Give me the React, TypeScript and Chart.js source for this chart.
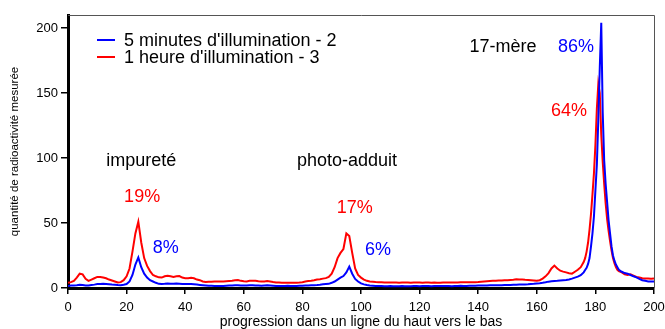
import React, { useEffect, useRef } from "react";
import { Chart, registerables } from "chart.js";

Chart.register(...registerables);

// Position along the lane (x values)
const positions: number[] = [
  0, 1, 2, 3, 4, 5, 6, 7, 8, 9, 10, 11, 12, 13, 14, 15, 16, 17, 18, 19,
  20, 21, 22, 23, 24, 25, 26, 27, 28, 29, 30, 31, 32, 33, 34, 35, 36, 37, 38, 39,
  40, 41, 42, 43, 44, 45, 46, 47, 48, 49, 50, 51, 52, 53, 54, 55, 56, 57, 58, 59,
  60, 61, 62, 63, 64, 65, 66, 67, 68, 69, 70, 71, 72, 73, 74, 75, 76, 77, 78, 79,
  80, 81, 82, 83, 84, 85, 86, 87, 88, 89, 90, 91, 92, 93, 94, 95, 96, 97, 98, 99,
  100, 101, 102, 103, 104, 105, 106, 107, 108, 109, 110, 111, 112, 113, 114, 115, 116, 117, 118, 119,
  120, 121, 122, 123, 124, 125, 126, 127, 128, 129, 130, 131, 132, 133, 134, 135, 136, 137, 138, 139,
  140, 141, 142, 143, 144, 145, 146, 147, 148, 149, 150, 151, 152, 153, 154, 155, 156, 157, 158, 159,
  160, 161, 162, 163, 164, 165, 166, 167, 168, 169, 170, 171, 172, 173, 174, 175, 176,
  176.5, 177, 177.5, 178, 178.5, 179, 179.5, 180, 180.5, 181, 181.5, 182, 182.5, 183, 183.5,
  184, 184.5, 185, 185.5, 186, 186.5, 187, 187.5,
  188, 189, 190, 191, 192, 193, 194, 195, 196, 197, 198, 199, 200,
];

// 5 minutes d'illumination - 2 (blue)
const blueValues: number[] = [
  1.5, 2, 2, 2.2, 2.5, 2.3, 2, 2, 2.3, 2.6, 3, 3, 3.2, 3, 2.8, 2.6, 2.5, 2.3, 2.2, 2.5,
  3, 5, 10, 18, 23.5, 16, 11, 8, 6, 5, 4, 3.2, 3, 3.2, 3.5, 3.3, 3.2, 3.4, 3.3, 3.1,
  3, 3, 3, 2.8, 2.6, 2.4, 2.2, 2, 1.8, 1.7, 1.6, 1.6, 1.5, 1.6, 1.8, 1.9, 2, 2.1, 2.2, 2,
  1.9, 2, 2.1, 2.2, 2, 1.9, 1.8, 2, 2.1, 2, 1.8, 1.6, 1.5, 1.5, 1.6, 1.7, 1.6, 1.5, 1.6, 1.7,
  1.8, 2, 2, 2.1, 2.2, 2.3, 2.5, 2.8, 3, 3.2, 4, 5, 6.5, 8, 9.2, 12, 16.5, 11, 7, 5,
  3.5, 2.8, 2.3, 2, 1.8, 1.6, 1.5, 1.5, 1.4, 1.4, 1.5, 1.4, 1.3, 1.4, 1.5, 1.4, 1.3, 1.4, 1.5, 1.5,
  1.4, 1.5, 1.6, 1.5, 1.4, 1.5, 1.6, 1.6, 1.5, 1.6, 1.5, 1.4, 1.5, 1.6, 1.7, 1.6, 1.6, 1.7, 1.8, 1.8,
  1.9, 1.9, 2, 2, 2.1, 2.1, 2.2, 2.2, 2.2, 2.3, 2.3, 2.4, 2.5, 2.5, 2.6, 2.6, 2.7, 2.8, 3, 3.2,
  3.5, 3.7, 4, 4.4, 4.9, 5.1, 5.3, 5.5, 5.8, 6, 6.2, 6.6, 7.2, 8, 8.7, 9.8, 12,
  13.8, 15.5, 18.5, 23, 32, 42, 55, 75, 95, 130, 170, 204, 135, 98, 80,
  66, 52, 42, 32, 25, 21, 18, 16,
  14, 12.5, 11.5, 11, 10, 9, 8.2, 7, 6, 5.5, 5, 5, 5,
];

// 1 heure d'illumination - 3 (red)
const redValues: number[] = [
  4, 4.5, 5.5, 8, 11, 10.5, 7, 5.5, 6.5, 7.5, 8.5, 8.5, 8, 7.5, 6.5, 5.8, 5, 4.2, 4.5, 6,
  9, 15, 28, 42, 51, 35, 23, 17, 13, 10, 9, 8.2, 8, 9, 9.5, 9, 8.5, 9, 9.2, 8,
  7.5, 7.5, 7.8, 7.5, 6.5, 6, 5, 4.6, 4.8, 4.8, 5, 5, 5, 5, 5.2, 5.4, 5.6, 6, 6.2, 5.5,
  5.2, 5, 5.5, 5.6, 5.5, 5.2, 5, 5, 5.3, 5, 4.6, 4.3, 4.2, 4, 4, 4, 4, 4, 4, 4.2,
  4.5, 5, 5.3, 5.6, 6, 6.5, 6.8, 7.2, 7.6, 8.5, 11, 16, 23, 27, 30, 42, 40, 27, 15, 10,
  8, 6.5, 5.5, 5, 4.8, 4.6, 4.5, 4.4, 4.3, 4.3, 4.2, 4.3, 4.2, 4.1, 4.2, 4.3, 4.2, 4.1, 4.2, 4.3,
  4.2, 4.1, 4.2, 4.2, 4.1, 4.2, 4.1, 4, 4.2, 4.2, 4.3, 4.2, 4.3, 4.3, 4.4, 4.4, 4.5, 4.4, 4.4, 4.5,
  4.6, 4.8, 5, 5.2, 5.4, 5.5, 5.6, 5.7, 5.8, 5.9, 6, 6.2, 6.4, 6.7, 6.6, 6.5, 6.3, 6.2, 6, 5.8,
  5.6, 6, 7.2, 9, 11.5, 15, 17.2, 15, 13.3, 12.6, 12, 11.3, 11, 12.5, 14, 16, 20,
  23, 28, 35, 45, 57, 72, 88, 110, 138, 157, 150, 118, 97, 80, 65,
  53, 44, 36, 29, 23, 19, 16, 14,
  13, 12, 10.5, 10, 10.5, 9.5, 8.5, 8, 7.5, 7.4, 7.4, 7.2, 7.3,
];

const seriesLabels = ["5 minutes d'illumination - 2", "1 heure d'illumination - 3"];
const seriesColors = ["#0000ff", "#ff0000"];
const yTickValues = [0, 50, 100, 150, 200];
const xAxisTitle = "progression dans un ligne du haut vers le bas";
const yAxisTitle = "quantité de radioactivité mesurée";

// Text labels placed in data coordinates
const labelTexts = ["impureté", "19%", "8%", "photo-adduit", "17%", "6%", "17-mère", "86%", "64%"];
const labelX = [25.0, 25.3, 33.4, 95.2, 97.9, 105.8, 148.5, 173.4, 171.0];
const labelY = [97.7, 70.0, 30.8, 97.7, 61.5, 29.2, 185.4, 185.4, 136.0];
const labelColors = ["#000000", "#ff0000", "#0000ff", "#000000", "#ff0000", "#0000ff", "#000000", "#0000ff", "#ff0000"];

const FONT = '"Liberation Sans", Arial, Helvetica, sans-serif';

const overlayPlugin = {
  id: "overlay",
  afterDraw(chart: any) {
    const { ctx, chartArea: ca, scales } = chart;
    const xs = scales.x;
    const ys = scales.y;
    ctx.save();
    // thin top/right frame
    ctx.strokeStyle = "#555555";
    ctx.lineWidth = 1;
    ctx.beginPath();
    ctx.moveTo(ca.left, Math.round(ca.top) + 0.5);
    ctx.lineTo(Math.round(ca.right) + 0.5, Math.round(ca.top) + 0.5);
    ctx.lineTo(Math.round(ca.right) + 0.5, ca.bottom);
    ctx.stroke();

    // legend
    ctx.font = "18px " + FONT;
    ctx.textAlign = "left";
    ctx.textBaseline = "middle";
    for (let i = 0; i < seriesLabels.length; i++) {
      const ly = ca.top + 25 + i * 17;
      ctx.strokeStyle = seriesColors[i];
      ctx.lineWidth = 2;
      ctx.beginPath();
      ctx.moveTo(ca.left + 29, ly);
      ctx.lineTo(ca.left + 47, ly);
      ctx.stroke();
      ctx.fillStyle = "#000000";
      ctx.fillText(seriesLabels[i], ca.left + 56, ly + 1);
    }

    // annotations
    ctx.textAlign = "center";
    for (let i = 0; i < labelTexts.length; i++) {
      ctx.fillStyle = labelColors[i];
      ctx.fillText(labelTexts[i], xs.getPixelForValue(labelX[i]), ys.getPixelForValue(labelY[i]));
    }
    ctx.restore();
  },
};

export default function App() {
  const canvasRef = useRef<HTMLCanvasElement | null>(null);

  useEffect(() => {
    const canvas = canvasRef.current;
    if (!canvas) return;
    const chart = new Chart(canvas, {
      type: "line",
      data: {
        datasets: [
          {
            label: seriesLabels[0],
            data: positions.map((x, i) => ({ x, y: blueValues[i] })),
            borderColor: seriesColors[0],
            borderWidth: 2,
            pointRadius: 0,
            tension: 0,
            fill: false,
          },
          {
            label: seriesLabels[1],
            data: positions.map((x, i) => ({ x, y: redValues[i] })),
            borderColor: seriesColors[1],
            borderWidth: 2,
            pointRadius: 0,
            tension: 0,
            fill: false,
          },
        ],
      },
      options: {
        responsive: false,
        animation: false,
        layout: { padding: { top: 15, right: 11, left: 8, bottom: 0 } },
        plugins: {
          legend: { display: false },
          tooltip: { enabled: false },
        },
        scales: {
          x: {
            type: "linear",
            min: 0,
            max: 200,
            ticks: {
              stepSize: 20,
              color: "#000000",
              font: { family: FONT, size: 13 },
              padding: 6,
              maxRotation: 0,
            },
            grid: { drawOnChartArea: false, drawTicks: true, tickLength: 6, color: "#000000", lineWidth: 1.5 },
            border: { display: true, color: "#000000", width: 3 },
            title: {
              display: true,
              text: xAxisTitle,
              color: "#000000",
              font: { family: FONT, size: 14 },
              padding: { top: 0, bottom: -2 },
            },
            afterFit: (s: any) => {
              s.height = 41;
              s.paddingLeft = 0;
              s.paddingRight = 0;
            },
          },
          y: {
            type: "linear",
            min: 0,
            max: 210,
            afterBuildTicks: (s: any) => {
              s.ticks = yTickValues.map((v) => ({ value: v }));
            },
            ticks: {
              color: "#000000",
              font: { family: FONT, size: 13 },
              padding: 3,
            },
            grid: { drawOnChartArea: false, drawTicks: true, tickLength: 7, color: "#000000", lineWidth: 1.5 },
            border: { display: true, color: "#000000", width: 3 },
            title: {
              display: true,
              text: yAxisTitle,
              color: "#000000",
              font: { family: FONT, size: 11.5 },
              padding: { top: 0, bottom: 0 },
            },
            afterFit: (s: any) => {
              s.width = 60;
              s.paddingTop = 0;
              s.paddingBottom = 0;
            },
          },
        },
      },
      plugins: [overlayPlugin],
    } as any);
    return () => chart.destroy();
  }, []);

  return (
    <div style={{ position: "fixed", left: 0, top: 0, width: 665, height: 329, background: "#ffffff" }}>
      <canvas ref={canvasRef} width={665} height={329} />
    </div>
  );
}
